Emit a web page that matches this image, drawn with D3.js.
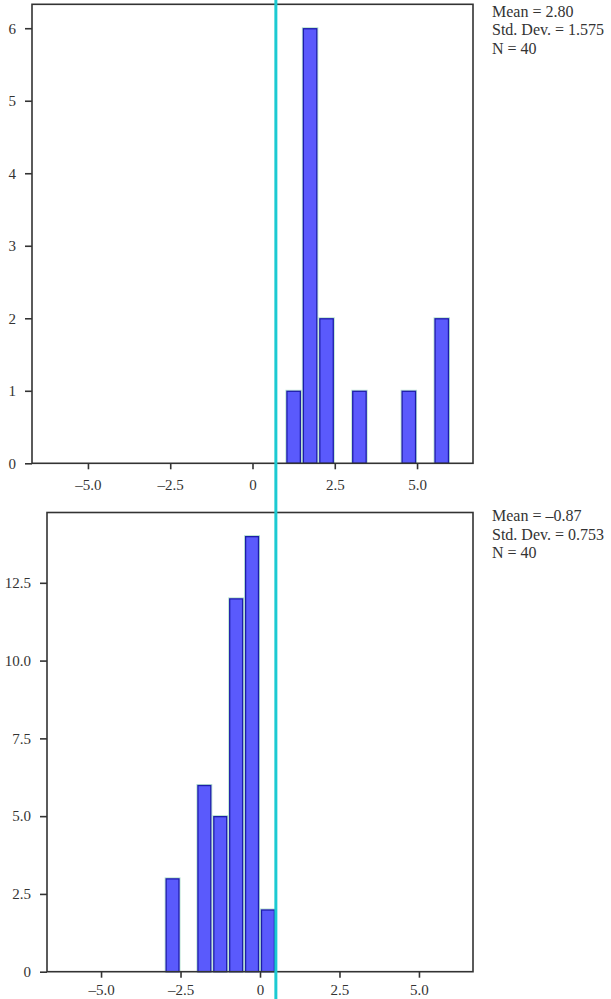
<!DOCTYPE html>
<html>
<head>
<meta charset="utf-8">
<script src="https://cdn.jsdelivr.net/npm/d3@7"></script>
<style>
body { margin: 0; background: #fff; }
text { font-family: "Liberation Serif", "DejaVu Serif", serif; fill: #333; }
</style>
</head>
<body>
<script>
// bins (left edges), width 0.5
var binWidth = 0.5;
var binsTop = [1.0, 1.5, 2.0, 3.0, 4.5, 5.5];
var countsTop = [1, 6, 2, 1, 1, 2];
var binsBottom = [-3.0, -2.0, -1.5, -1.0, -0.5, 0.0];
var countsBottom = [3, 6, 5, 12, 14, 2];

var xTicks = [-5, -2.5, 0, 2.5, 5];
var yTicksTop = [0, 1, 2, 3, 4, 5, 6];
var yTicksBottom = [0, 2.5, 5, 7.5, 10, 12.5];

var statsTop = ["Mean = 2.80", "Std. Dev. = 1.575", "N = 40"];
var statsBottom = ["Mean = \u20130.87", "Std. Dev. = 0.753", "N = 40"];

// vertical reference line, value on the top x axis
var cutLine = 0.71;

var W = 611, H = 999;
var xDomain = [-6.7, 6.7];

var svg = d3.select("body").append("svg")
    .attr("width", W)
    .attr("height", H)
    .attr("viewBox", "0 0 " + W + " " + H);

function fmtX(d) {
    if (d == 0) return "0";
    return (d < 0 ? "\u2013" : "") + Math.abs(d).toFixed(1);
}

function drawPanel(p) {
    var x = d3.scaleLinear().domain(xDomain).range([p.left, p.right]);
    var y = d3.scaleLinear().domain([0, p.yMax]).range([p.bottom, p.top]);

    var g = svg.append("g");

    // bars
    var data = p.bins.map(function(b, i) { return {x0: b, x1: b + binWidth, n: p.counts[i]}; });
    g.selectAll("rect.halo").data(data).enter().append("rect")
        .attr("class", "halo")
        .attr("x", function(d) { return x(d.x0) + 0.5; })
        .attr("y", function(d) { return y(d.n) - 0.5; })
        .attr("width", function(d) { return x(d.x1) - x(d.x0) - 1; })
        .attr("height", function(d) { return y(0) - y(d.n) + 0.5; })
        .attr("fill", "none")
        .attr("stroke", "#b5e3cf")
        .attr("stroke-width", 1);
    g.selectAll("rect.bar").data(data).enter().append("rect")
        .attr("class", "bar")
        .attr("x", function(d) { return x(d.x0) + 1.5; })
        .attr("y", function(d) { return y(d.n) + 0.5; })
        .attr("width", function(d) { return x(d.x1) - x(d.x0) - 3; })
        .attr("height", function(d) { return y(0) - y(d.n) - 0.5; })
        .attr("fill", "#5a5afc")
        .attr("stroke", "#1c1ca8")
        .attr("stroke-width", 1.3);

    // frame
    g.append("rect")
        .attr("x", p.left)
        .attr("y", p.top)
        .attr("width", p.right - p.left)
        .attr("height", p.bottom - p.top)
        .attr("fill", "none")
        .attr("stroke", "#333")
        .attr("stroke-width", 1.6);

    var ax = g.append("g")
        .attr("transform", "translate(0," + p.bottom + ")")
        .call(d3.axisBottom(x).tickValues(xTicks).tickFormat(fmtX).tickSize(6).tickPadding(p.xPad));
    var ay = g.append("g")
        .attr("transform", "translate(" + p.left + ",0)")
        .call(d3.axisLeft(y).tickValues(p.yTicks).tickFormat(p.yFormat).tickSize(7).tickPadding(9));

    [ax, ay].forEach(function(a) {
        a.select(".domain").remove();
        a.selectAll("line").attr("stroke", "#333").attr("stroke-width", 1.6);
        a.selectAll("text")
            .attr("fill", "#333")
            .style("font-family", "\"Liberation Serif\", serif")
            .style("font-size", "15px");
    });

    // stats
    g.selectAll("text.stat").data(p.stats).enter().append("text")
        .attr("class", "stat")
        .attr("x", 492)
        .attr("y", function(d, i) { return p.statsY + i * 18.5; })
        .style("font-size", "16px")
        .text(function(d) { return d; });

    return x;
}

var xTop = drawPanel({
    left: 32, right: 473, top: 4.3, bottom: 463.3,
    yMax: 6.33, bins: binsTop, counts: countsTop,
    yTicks: yTicksTop, yFormat: d3.format("d"), xPad: 10,
    stats: statsTop, statsY: 16.5
});

drawPanel({
    left: 47, right: 473, top: 512.5, bottom: 971.7,
    yMax: 14.76, bins: binsBottom, counts: countsBottom,
    yTicks: yTicksBottom, yFormat: function(d) { return d == 0 ? "0" : d.toFixed(1); }, xPad: 6.5,
    stats: statsBottom, statsY: 521
});

// cyan reference line across both panels
svg.append("line")
    .attr("x1", xTop(cutLine))
    .attr("x2", xTop(cutLine))
    .attr("y1", 0)
    .attr("y2", H)
    .attr("stroke", "#1ccad2")
    .attr("stroke-width", 3);
</script>
</body>
</html>
